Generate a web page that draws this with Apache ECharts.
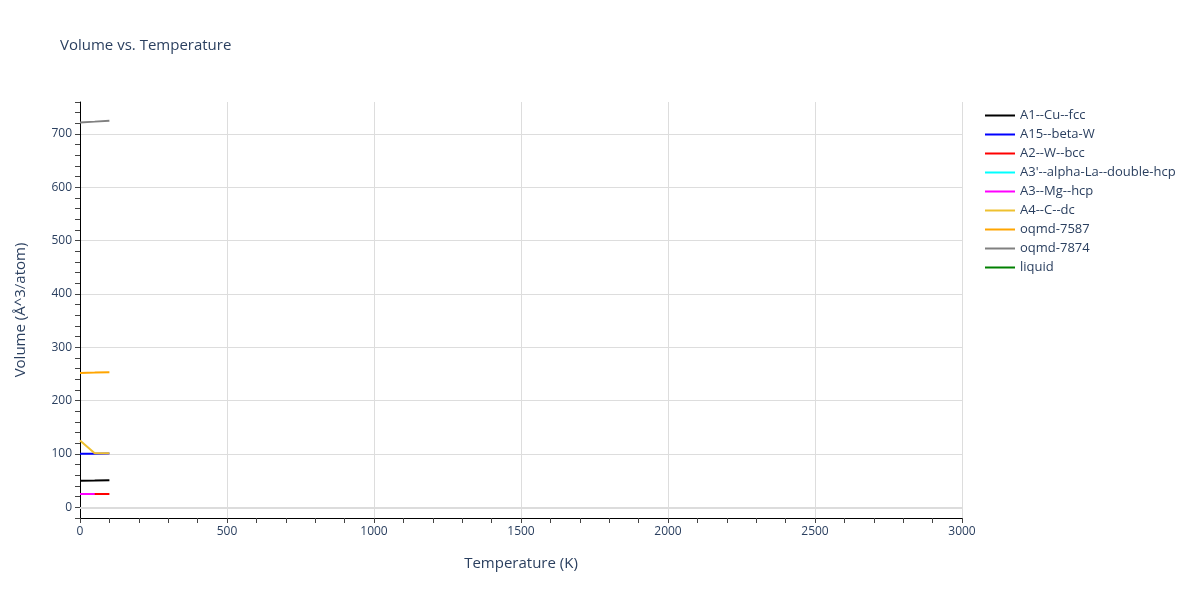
<!DOCTYPE html>
<html>
<head>
<meta charset="utf-8">
<script src="https://cdn.jsdelivr.net/npm/echarts@6/dist/echarts.min.js"></script>
<style>html,body{margin:0;padding:0;background:#fff;}#c{width:1200px;height:600px;}</style>
</head>
<body>
<div id="c"></div>
<script>
const seriesNames = ['A1--Cu--fcc','A15--beta-W','A2--W--bcc',"A3'--alpha-La--double-hcp",'A3--Mg--hcp','A4--C--dc','oqmd-7587','oqmd-7874','liquid'];
const seriesColors = ['#000000','#0000ff','#ff0000','#00ffff','#ff00ff','#eec130','#ffa500','#808080','#008000'];
const tA1 = [0, 50, 100];
const vA1 = [50.0, 50.1, 50.8];
const tA15 = [0, 50, 100];
const vA15 = [100.6, 100.7, 100.9];
const tA2 = [0, 50, 100];
const vA2 = [25.0, 25.0, 25.1];
const tA3p = [];
const vA3p = [];
const tA3 = [0, 50];
const vA3 = [25.0, 25.0];
const tA4 = [0, 50, 100];
const vA4 = [125.5, 101.2, 101.6];
const t7587 = [0, 50, 100];
const v7587 = [252.0, 252.6, 253.3];
const t7874 = [0, 50, 100];
const v7874 = [721.5, 723.2, 725.0];
const tLiq = [];
const vLiq = [];
const xTicks = [0, 500, 1000, 1500, 2000, 2500, 3000];
const yTicks = [0, 100, 200, 300, 400, 500, 600, 700];

const allT = [tA1,tA15,tA2,tA3p,tA3,tA4,t7587,t7874,tLiq];
const allV = [vA1,vA15,vA2,vA3p,vA3,vA4,v7587,v7874,vLiq];

const txt = '#2a3f5f';
const series = seriesNames.map((n,i)=>({
  name:n, type:'line', symbol:'none', showSymbol:false,
  data: allT[i].map((t,j)=>[t, allV[i][j]]),
  lineStyle:{width:2,color:seriesColors[i]},
  itemStyle:{color:seriesColors[i]},
  emphasis:{disabled:true},
  animation:false
}));
series[0].markLine = {
  silent:true, symbol:'none', label:{show:false}, animation:false,
  lineStyle:{color:'#dcdcdc',width:2,type:'solid'},
  data:[{yAxis:0}]
};
series[0].z = 3;

const chart = echarts.init(document.getElementById('c'));
chart.setOption({
  backgroundColor:'#fff',
  animation:false,
  title:{text:'Volume vs. Temperature',left:55,top:33,textStyle:{fontFamily:'Open Sans, sans-serif',fontSize:15,fontWeight:'normal',color:txt}},
  legend:{
    orient:'vertical', left:980, top:104, itemWidth:30, itemHeight:2, itemGap:6,
    icon:'rect',
    textStyle:{fontFamily:'Open Sans, sans-serif',fontSize:13,color:txt},
    data:seriesNames
  },
  grid:{left:80,right:238,top:102,bottom:82},
  xAxis:{
    type:'value', min:0, max:3000, interval:500,
    name:'Temperature (K)', nameLocation:'middle', nameGap:38,
    nameTextStyle:{fontFamily:'Open Sans, sans-serif',fontSize:15,color:txt},
    axisLine:{onZero:false,lineStyle:{color:'#000',width:1}},
    axisTick:{show:true,length:5,lineStyle:{color:'#444'}},
    minorTick:{show:true,splitNumber:5,length:5,lineStyle:{color:'#444'}},
    axisLabel:{fontFamily:'Open Sans, sans-serif',fontSize:12,color:txt,margin:8,
      formatter:v=>xTicks.includes(v)?String(v):''},
    splitLine:{show:true,lineStyle:{color:'#dddddd',width:1}}
  },
  yAxis:{
    type:'value', min:-20, max:760, interval:20,
    name:'Volume (Å^3/atom)', nameLocation:'middle', nameGap:52,
    nameTextStyle:{fontFamily:'Open Sans, sans-serif',fontSize:15,color:txt},
    axisLine:{show:true,onZero:false,lineStyle:{color:'#000',width:1}},
    axisTick:{show:true,length:5,lineStyle:{color:'#444'}},
    axisLabel:{fontFamily:'Open Sans, sans-serif',fontSize:12,color:txt,margin:8,
      formatter:v=>yTicks.includes(v)?String(v):''},
    splitLine:{show:true,lineStyle:{color:['rgba(0,0,0,0)','#dddddd','rgba(0,0,0,0)','rgba(0,0,0,0)','rgba(0,0,0,0)'],width:1}}
  },
  series:series
});
</script>
</body>
</html>
